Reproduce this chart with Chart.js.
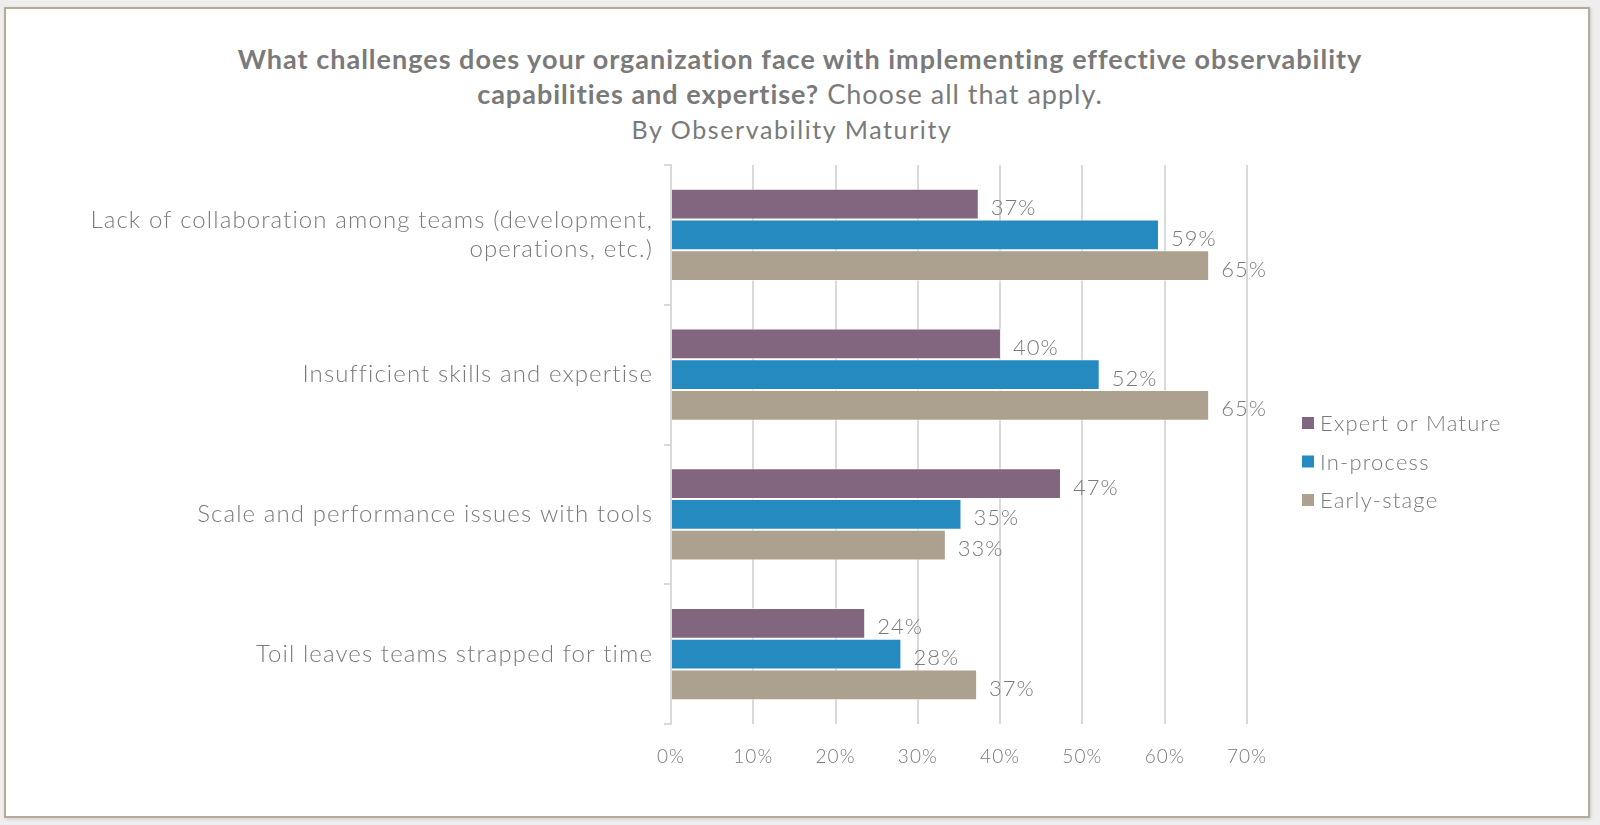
<!DOCTYPE html>
<html>
<head>
<meta charset="utf-8">
<script src="https://cdn.jsdelivr.net/npm/chart.js@4/dist/chart.umd.min.js"></script>
<style>
  body { margin: 0; background: #eeeeee; width: 1600px; height: 825px; overflow: hidden; font-family: Lato, "Open Sans", sans-serif; }
  #frame { position: absolute; left: 4px; top: 7px; width: 1582px; height: 807px; background: #fff; border: 2px solid #b5ab99; box-shadow: 1px 1px 3px rgba(0,0,0,0.15); }
  #title { position: absolute; left: 0; top: 41px; width: 1600px; text-align: center; color: #7a7a7a; font-size: 27px; line-height: 35px; letter-spacing: 1px; }
  #title b { font-weight: 700; }
  #title .line2 { position: relative; left: -10px; }
  #title .sub { position: relative; left: -8px; font-size: 25px; letter-spacing: 1.6px; }
  canvas { position: absolute; left: 0; top: 0; }
</style>
</head>
<body>
<div id="frame"></div>
<div id="title">
  <b>What challenges does your organization face with implementing effective observability</b><br>
  <span class="line2"><b>capabilities and expertise?</b> Choose all that apply.</span><br>
  <span class="sub">By Observability Maturity</span>
</div>
<canvas id="chart" width="1600" height="825"></canvas>
<script>
const categories = [
    ['Lack of collaboration among teams (development,', 'operations, etc.)'],
    'Insufficient skills and expertise',
    'Scale and performance issues with tools',
    'Toil leaves teams strapped for time'
];
const seriesNames = ['Expert or Mature', 'In-process', 'Early-stage'];
const seriesColors = ['#82657f', '#248abf', '#aca18e'];
const expertValues = [37.4, 40.1, 47.4, 23.6];
const inProcessValues = [59.3, 52.1, 35.3, 28.0];
const earlyStageValues = [65.4, 65.4, 33.4, 37.2];
const xTicks = [0, 10, 20, 30, 40, 50, 60, 70];

const labelColor = '#7a7a7a';
const fontFamily = 'Lato, "Open Sans", sans-serif';

// a bit of letter spacing for the axis text, closer to the original font
const spacing = {
    id: 'spacing',
    beforeDraw(chart) { chart.ctx.letterSpacing = '1.1px'; },
    afterDraw(chart) { chart.ctx.letterSpacing = '0px'; }
};

// value labels at the end of each bar
const barLabels = {
    id: 'barLabels',
    afterDatasetsDraw(chart) {
        const ctx = chart.ctx;
        ctx.save();
        ctx.font = '300 22px ' + fontFamily;
        ctx.letterSpacing = '1px';
        ctx.fillStyle = labelColor;
        ctx.textAlign = 'left';
        ctx.textBaseline = 'middle';
        chart.data.datasets.forEach((ds, i) => {
            chart.getDatasetMeta(i).data.forEach((bar, j) => {
                ctx.fillText(Math.round(ds.data[j]) + '%', bar.x + 12, bar.y + 4);
            });
        });
        ctx.restore();
    }
};

// legend on the right, drawn from the datasets
const sideLegend = {
    id: 'sideLegend',
    afterDraw(chart) {
        const ctx = chart.ctx;
        const x = 1302, y0 = 423, step = 38.5;
        ctx.save();
        ctx.font = '300 22px ' + fontFamily;
        ctx.letterSpacing = '1.2px';
        ctx.textAlign = 'left';
        ctx.textBaseline = 'middle';
        chart.data.datasets.forEach((ds, i) => {
            const y = y0 + i * step;
            ctx.fillStyle = ds.backgroundColor;
            ctx.fillRect(x, y - 6, 12, 12);
            ctx.fillStyle = labelColor;
            ctx.fillText(ds.label, x + 18, y + 1);
        });
        ctx.restore();
    }
};

const datasets = [expertValues, inProcessValues, earlyStageValues].map((values, i) => ({
    label: seriesNames[i],
    data: values,
    backgroundColor: seriesColors[i],
    borderColor: 'rgba(255,255,255,0.6)',
    borderWidth: 1,
    categoryPercentage: 0.66,
    barPercentage: 1.0
}));

new Chart(document.getElementById('chart'), {
    type: 'bar',
    data: { labels: categories, datasets: datasets },
    plugins: [spacing, barLabels, sideLegend],
    options: {
        indexAxis: 'y',
        responsive: false,
        animation: false,
        layout: { padding: { left: 0, top: 165, right: 353, bottom: 51 } },
        plugins: {
            legend: { display: false },
            title: { display: false },
            tooltip: { enabled: false }
        },
        scales: {
            x: {
                min: 0,
                max: 70,
                afterBuildTicks(scale) { scale.ticks = xTicks.map(v => ({ value: v })); },
                afterFit(scale) { scale.height = 50; },
                grid: { color: '#d9d9d9', lineWidth: 2, drawTicks: false },
                border: { display: false },
                ticks: {
                    padding: 21,
                    color: labelColor,
                    font: { family: fontFamily, size: 19, weight: 300 },
                    callback: v => v + '%'
                }
            },
            y: {
                afterFit(scale) { scale.width = 671; },
                grid: { offset: true, drawOnChartArea: false, color: '#d9d9d9', lineWidth: 2, tickLength: 7 },
                border: { color: '#d9d9d9', width: 2 },
                ticks: {
                    padding: 11,
                    color: labelColor,
                    font: { family: fontFamily, size: 24, weight: 300 }
                }
            }
        }
    }
});
</script>
</body>
</html>
